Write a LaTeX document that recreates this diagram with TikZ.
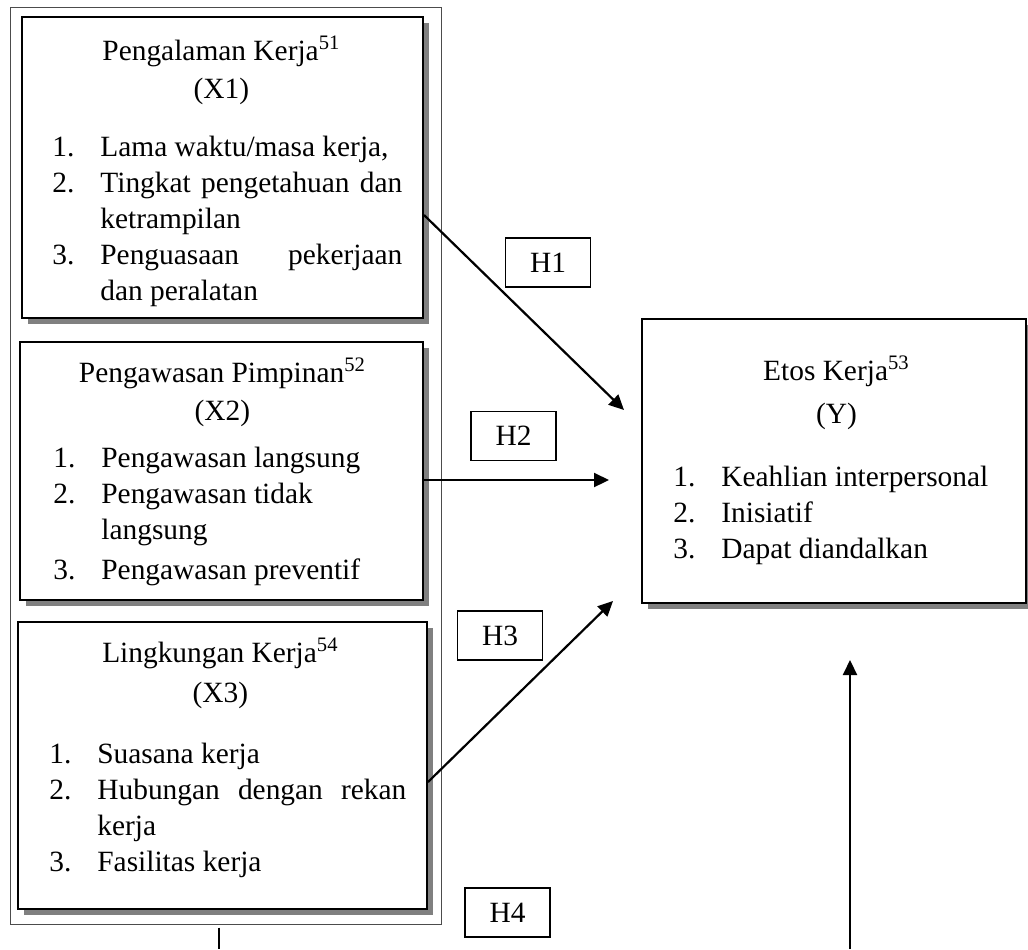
\documentclass[tikz,border=0pt]{standalone}
\usepackage{fontspec}
\setmainfont{Liberation Serif}
\usetikzlibrary{arrows.meta,shadows}

\newlength{\numw}
\setlength{\numw}{24pt}
\newcommand{\ttl}[2][0pt]{\hbox to\hsize{\hss#2\hss\kern#1}}
\newcommand{\itm}[2]{\hbox to\hsize{\hbox to\numw{#1\hfil}#2\hfil}}
\newcommand{\itmj}[2]{\hbox to\hsize{\hbox to\numw{#1\hfil}#2}}
\newcommand{\cnt}[1]{\hbox to\hsize{\hskip\numw #1\hfil}}
\newcommand{\blok}[2]{\vtop{\hsize=#1\relax\baselineskip=18pt\relax #2}}

\begin{document}
\begin{tikzpicture}[x=0.5pt, y=-0.5pt, font=\fontsize{14.7pt}{18pt}\selectfont,
    vbox/.style={draw, line width=1pt, fill=white, inner sep=0pt,
      drop shadow={shadow xshift=2.75pt, shadow yshift=-2.75pt, fill=black!50, opacity=1}},
    grp/.style={draw=black!70, line width=0.5pt, inner sep=0pt},
    hyp/.style={draw, line width=0.75pt, minimum width=42.5pt, minimum height=24.5pt, inner sep=0pt},
    txt/.style={anchor=base west, inner sep=0pt},
    arr/.style={-{Triangle[length=7.5pt, width=7pt]}, line width=1.1pt}]
    \useasboundingbox (0,0) rectangle (1028,949);

    \node[grp, minimum width=215.5pt, minimum height=458.5pt] (xgrp) at (225.5,465.5) {};

    \node[vbox, minimum width=200.5pt, minimum height=150.5pt] (x1) at (222.5,167.5) {};
    \node[vbox, minimum width=201.5pt, minimum height=129pt] (x2) at (221.5,471) {};
    \node[vbox, minimum width=204.5pt, minimum height=143.5pt] (x3) at (222.5,765.5) {};
    \node[vbox, minimum width=192pt, minimum height=142pt] (etos) at (834,461) {};

    \node[txt] (x1txt) at (52,60) {\blok{175pt}{%
      \ttl[6pt]{Pengalaman Kerja\textsuperscript{51}}\vskip 1pt
      \ttl[6pt]{(X1)}\vskip 11pt
      \itm{1.}{Lama waktu/masa kerja,}
      \itmj{2.}{Tingkat pengetahuan dan}
      \cnt{ketrampilan}
      \itmj{3.}{Penguasaan pekerjaan}
      \cnt{dan peralatan}}};
    \node[txt] (x2txt) at (53,382) {\blok{169pt}{%
      \ttl{Pengawasan Pimpinan\textsuperscript{52}}\vskip 1pt
      \ttl{(X2)}\vskip 5.5pt
      \itm{1.}{Pengawasan langsung}
      \itm{2.}{Pengawasan tidak}
      \cnt{langsung}\vskip 2pt
      \itm{3.}{Pengawasan preventif}}};
    \node[txt] (x3txt) at (49,662) {\blok{178.5pt}{%
      \ttl[7.5pt]{Lingkungan Kerja\textsuperscript{54}}\vskip 2pt
      \ttl[7.5pt]{(X3)}\vskip 12.5pt
      \itm{1.}{Suasana kerja}
      \itmj{2.}{Hubungan dengan rekan}
      \cnt{kerja}
      \itm{3.}{Fasilitas kerja}}};
    \node[txt] (etostxt) at (673,380) {\blok{163pt}{%
      \ttl{Etos Kerja\textsuperscript{53}}\vskip 3.5pt
      \ttl{(Y)}\vskip 13.5pt
      \itm{1.}{Keahlian interpersonal}
      \itm{2.}{Inisiatif}
      \itm{3.}{Dapat diandalkan}}};

    \node[hyp] (h1) at (548,262.5) {H1};
    \node[hyp] (h2) at (513.5,436) {H2};
    \node[hyp] (h3) at (500,635.5) {H3};
    \node[hyp] (h4) at (507.5,912.5) {H4};

    \coordinate (t1) at (624,410);
    \coordinate (t2) at (609,480);
    \coordinate (t3) at (613,601);
    \coordinate (t4) at (850,660);
    \coordinate (e4) at (850,949);
    \coordinate (e0) at (219,949);

    \draw[arr] (x1.east) ++(0,47.5) -- (t1);
    \draw[arr] (x2.east |- t2) -- (t2);
    \draw[arr] (x3.east) ++(0,16.5) -- (t3);
    \draw[arr] (e4) -- (t4);
    \draw[line width=0.6pt] (xgrp.south -| e0) ++(0,3) -- (e0);
\end{tikzpicture}
\end{document}
